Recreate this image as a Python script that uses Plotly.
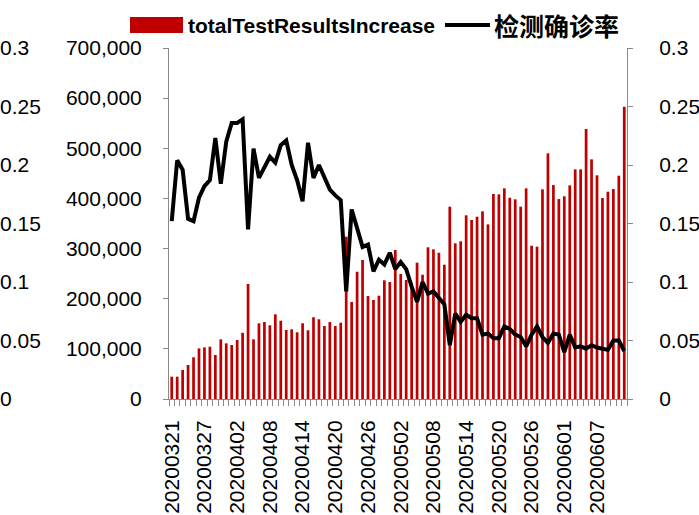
import pandas as pd
import plotly.graph_objects as go

# daily categories shown on the x axis
dates = pd.date_range("2020-03-21", "2020-06-12").strftime("%Y%m%d").tolist()

# totalTestResultsIncrease (left axis)
tests = [
    44500, 44500, 57800, 67800, 83200, 101000, 103000, 104300, 87700, 119000,
    111000, 107700, 117600, 132000, 229300, 119000, 151000, 153500, 147000, 168900,
    156100, 137600, 139000, 133000, 151000, 137000, 163000, 159000, 145600, 153500,
    145600, 152200, 323600, 193400, 253800, 277200, 205400, 197400, 206000, 236700,
    233300, 297100, 249300, 237300, 231900, 271800, 247900, 302500, 298500, 291700,
    267800, 383500, 310500, 314500, 366300, 357000, 363500, 374300, 348300, 408800,
    408200, 420100, 401400, 398200, 383500, 420100, 305700, 303700, 418100, 489900,
    426700, 398800, 404200, 426100, 458000, 458000, 538400, 478000, 446100, 400800,
    413400, 418700, 445300, 582900,
]

# 检测确诊率 (right axis)
rate = [
    0.152, 0.204, 0.196, 0.154, 0.152, 0.172, 0.182, 0.187, 0.223, 0.184,
    0.220, 0.236, 0.236, 0.239, 0.145, 0.214, 0.189, 0.198, 0.207, 0.202,
    0.217, 0.221, 0.200, 0.187, 0.169, 0.219, 0.189, 0.200, 0.190, 0.179,
    0.174, 0.170, 0.092, 0.162, 0.146, 0.130, 0.132, 0.109, 0.119, 0.115,
    0.125, 0.111, 0.117, 0.111, 0.096, 0.083, 0.100, 0.090, 0.092, 0.086,
    0.081, 0.046, 0.073, 0.066, 0.072, 0.069, 0.069, 0.055, 0.056, 0.052,
    0.052, 0.062, 0.060, 0.055, 0.053, 0.045, 0.055, 0.062, 0.053, 0.048,
    0.056, 0.055, 0.040, 0.055, 0.044, 0.045, 0.043, 0.046, 0.044, 0.043,
    0.042, 0.050, 0.050, 0.041,
]

LABEL_STEP = 6
W, H = 699, 515
PL, PR, PT, PB = 169, 627, 48, 399   # plot area in pixels
RED = "#C00000"
GREY = "#898989"
FONT = "Liberation Sans, Arial, sans-serif"

idx = list(range(len(dates)))

def px(x):
    return x / W

def py(y):
    return (PB - y) / (PB - PT)

fig = go.Figure()
fig.add_trace(go.Bar(x=idx, y=tests, name="totalTestResultsIncrease", width=0.5,
                     marker=dict(color=RED, line_width=0), showlegend=False))
fig.add_trace(go.Scatter(x=idx, y=rate, name="检测确诊率", yaxis="y2", mode="lines",
                         line=dict(color="black", width=4), showlegend=False))
fig.add_trace(go.Scatter(x=idx, y=rate, yaxis="y3", mode="markers",
                         marker=dict(opacity=0), hoverinfo="skip", showlegend=False))

tick_font = dict(family=FONT, size=21, color="black")
fig.update_layout(
    width=W, height=H, autosize=False, template="none",
    margin=dict(l=0, r=0, t=PT, b=H - PB, pad=0),
    paper_bgcolor="white", plot_bgcolor="white",
    xaxis=dict(domain=[px(PL), px(PR)], range=[-0.5, len(dates) - 0.5],
               tickmode="array", tickvals=idx[::LABEL_STEP], ticktext=dates[::LABEL_STEP],
               tickangle=-90, ticks="", showline=True, linecolor=GREY, linewidth=1,
               showgrid=False, zeroline=False, tickfont=tick_font, ticklabelstandoff=12,
               minor=dict(tickmode="linear", tick0=-0.5, dtick=1, ticks="outside",
                          ticklen=6, tickcolor=GREY, showgrid=False),
               automargin=False),
    yaxis=dict(range=[0, 700000], dtick=100000, tickformat=",", showline=True,
               linecolor=GREY, ticks="outside", ticklen=5, tickcolor=GREY,
               showgrid=False, zeroline=False, tickfont=tick_font,
               ticklabelstandoff=17, automargin=False),
    yaxis2=dict(range=[0, 0.3], dtick=0.05, overlaying="y", side="right", anchor="x",
                showline=True, linecolor=GREY, ticks="outside", ticklen=5, tickcolor=GREY,
                showgrid=False, zeroline=False, tickfont=tick_font,
                ticklabelstandoff=22, automargin=False),
    yaxis3=dict(range=[0, 0.3], dtick=0.05, overlaying="y", side="right", anchor="free",
                position=0, showline=False, ticks="", showgrid=False, zeroline=False,
                tickfont=tick_font, ticklabelstandoff=-1, automargin=False),
)

# legend drawn as in the source: wide colour patch + bold labels
fig.add_shape(type="rect", xref="paper", yref="paper", x0=px(130), x1=px(183),
              y0=py(33), y1=py(17), fillcolor=RED, line_width=0)
fig.add_shape(type="line", xref="paper", yref="paper", x0=px(445), x1=px(490),
              y0=py(25), y1=py(25), line=dict(color="black", width=4))
fig.add_annotation(xref="paper", yref="paper", x=px(186), y=py(25), xanchor="left",
                   yanchor="middle", showarrow=False, text="<b>totalTestResultsIncrease</b>",
                   font=dict(family=FONT, size=21, color="black"))
fig.add_annotation(xref="paper", yref="paper", x=px(492), y=py(25), xanchor="left",
                   yanchor="middle", showarrow=False, text="<b>检测确诊率</b>",
                   font=dict(family="Noto Sans CJK SC", size=25, color="black"))

fig.write_html("out.html", config={"displayModeBar": False},
               post_script="document.body.style.margin='0';document.body.style.overflow='hidden';")
